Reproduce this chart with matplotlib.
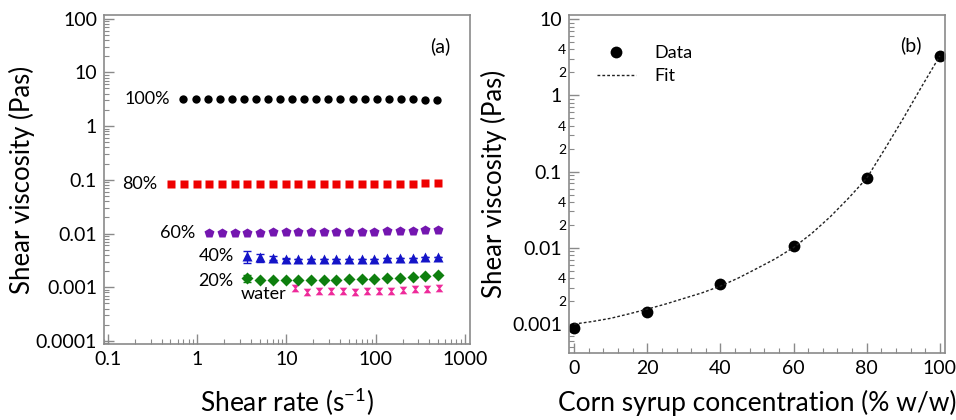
import numpy as np
import matplotlib
matplotlib.use("Agg")
import matplotlib.pyplot as plt
from matplotlib.path import Path
from matplotlib.ticker import LogLocator, FixedLocator, NullFormatter, FixedFormatter, FuncFormatter

plt.rcParams["font.family"] = ["Lato", "DejaVu Sans"]
plt.rcParams["mathtext.fontset"] = "custom"
plt.rcParams["mathtext.rm"] = "Lato"

# =========================
# (a) flow curves
# =========================
rate_100 = [0.70, 0.956, 1.31, 1.78, 2.43, 3.33, 4.54, 6.2, 8.48, 11.6, 15.8,
            21.6, 29.5, 40.3, 55, 75.2, 103, 140, 192, 262, 357, 488]
visc_100 = [3.25, 3.25, 3.25, 3.25, 3.25, 3.25, 3.25, 3.25, 3.25, 3.25, 3.25,
            3.25, 3.25, 3.25, 3.25, 3.25, 3.25, 3.2, 3.2, 3.15, 3.1, 3.0]

rate_80 = [0.51, 0.71, 0.98, 1.36, 1.89, 2.63, 3.65, 5.06, 7.03, 9.75, 13.5,
           18.8, 26.1, 36.2, 50.2, 69.7, 96.8, 134, 186, 259, 359, 499]
visc_80 = [0.085, 0.085, 0.085, 0.085, 0.085, 0.085, 0.085, 0.085, 0.085, 0.085, 0.085,
           0.085, 0.085, 0.085, 0.085, 0.085, 0.085, 0.085, 0.085, 0.085, 0.086, 0.086]

rate_60 = [1.36, 1.89, 2.63, 3.65, 5.06, 7.03, 9.75, 13.5, 18.8, 26.1,
           36.2, 50.2, 69.7, 96.8, 134, 186, 259, 359, 499]
visc_60 = [0.0101, 0.0102, 0.0103, 0.0104, 0.0104, 0.0105, 0.0105, 0.0106, 0.0106, 0.0107,
           0.0107, 0.0108, 0.0108, 0.0109, 0.011, 0.011, 0.0112, 0.0114, 0.0117]

rate_40 = [3.65, 5.06, 7.03, 9.75, 13.5, 18.8, 26.1, 36.2, 50.2, 69.7,
           96.8, 134, 186, 259, 359, 499]
visc_40 = [0.0038, 0.0036, 0.0035, 0.0034, 0.0034, 0.0034, 0.0034, 0.0034, 0.0034, 0.0034,
           0.0034, 0.0035, 0.0035, 0.0035, 0.0036, 0.0037]
err_40 = [0.0010, 0.0006, 0.0003, 0.0001, 0, 0, 0, 0, 0, 0, 0, 0, 0, 0, 0, 0]

rate_20 = [3.65, 5.06, 7.03, 9.75, 13.5, 18.8, 26.1, 36.2, 50.2, 69.7,
           96.8, 134, 186, 259, 359, 499]
visc_20 = [0.00148, 0.00138, 0.00136, 0.00136, 0.00137, 0.00137, 0.00138, 0.00139, 0.0014, 0.00142,
           0.00144, 0.00147, 0.0015, 0.00155, 0.0016, 0.00168]
err_20 = [0.0002, 0, 0, 0, 0, 0, 0, 0, 0, 0, 0, 0, 0, 0, 0, 0]

rate_w = [12.3, 16.8, 22.9, 31.3, 42.7, 58.3, 79.6, 109, 148, 202, 276, 377, 515]
visc_w = [0.00095, 0.00082, 0.00085, 0.00086, 0.00086, 0.00083, 0.00085, 0.00085,
          0.00086, 0.00088, 0.00091, 0.00094, 0.00098]

# =========================
# (b) concentration dependence
# =========================
conc = [0, 20, 40, 60, 80, 100]
visc_conc = [0.000895, 0.00142, 0.00334, 0.0107, 0.082, 3.3]

fit_conc = [0, 5, 10, 15, 20, 25, 30, 35, 40, 45, 50, 55, 60, 65, 70, 75, 80, 85, 90, 95, 100]
fit_visc = [0.00100, 0.00108, 0.00119, 0.00136, 0.00157, 0.00183, 0.00217, 0.00257, 0.00315,
            0.00404, 0.00537, 0.00718, 0.0101, 0.0155, 0.0255, 0.0447, 0.082, 0.20, 0.50,
            1.30, 3.30]

frame_col = "#8a8a8a"

hourglass = Path([(-1, 1), (1, 1), (0.2, 0), (1, -1), (-1, -1), (-0.2, 0), (-1, 1)],
                 [Path.MOVETO] + [Path.LINETO] * 5 + [Path.CLOSEPOLY])

fig = plt.figure(figsize=(9.56, 4.2), dpi=100)
ax1 = fig.add_axes([0.1088, 0.181, 0.3828, 0.783])
ax2 = fig.add_axes([0.5952, 0.1595, 0.3933, 0.8045])

for ax in (ax1, ax2):
    for s in ax.spines.values():
        s.set_color(frame_col)
        s.set_linewidth(1.2)
    ax.tick_params(which="both", direction="in", color=frame_col, right=False, top=False)
    ax.tick_params(which="major", length=7, width=1, labelsize=14, pad=5)
    ax.tick_params(which="minor", length=3.5, width=0.8)

# ---- panel (a)
ax1.plot(rate_100, visc_100, "o", color="black", ms=6, mec="none")
ax1.plot(rate_80, visc_80, "s", color="#ee0000", ms=5.5, mec="none")
ax1.plot(rate_60, visc_60, "p", color="#7416b0", ms=7, mec="none")
ax1.errorbar(rate_40, visc_40, yerr=err_40, fmt="^", color="#1414c8", ms=6.5, mec="none",
             elinewidth=0.9, capsize=3)
ax1.errorbar(rate_20, visc_20, yerr=err_20, fmt="D", color="#0e7f0e", ms=6.5, mec="none",
             elinewidth=0.9, capsize=3)
ax1.plot(rate_w, visc_w, ls="none", marker=hourglass, color="#ee2a9a", ms=5.5, mec="none")

ax1.set_xscale("log")
ax1.set_yscale("log")
ax1.set_xlim(0.09, 1140)
ax1.set_ylim(8.8e-5, 116)
ax1.xaxis.set_major_locator(FixedLocator([0.1, 1, 10, 100, 1000]))
ax1.xaxis.set_major_formatter(FixedFormatter(["0.1", "1", "10", "100", "1000"]))
ax1.xaxis.set_minor_locator(LogLocator(base=10, subs=np.arange(2, 10)))
ax1.xaxis.set_minor_formatter(NullFormatter())
ax1.yaxis.set_major_locator(FixedLocator([1e-4, 1e-3, 1e-2, 0.1, 1, 10, 100]))
ax1.yaxis.set_major_formatter(FixedFormatter(["0.0001", "0.001", "0.01", "0.1", "1", "10", "100"]))
ax1.yaxis.set_minor_locator(LogLocator(base=10, subs=np.arange(2, 10)))
ax1.yaxis.set_minor_formatter(NullFormatter())

# series labels sit just left of each curve's first point
series_labels = [("100%", rate_100, visc_100, 0),
                 ("80%", rate_80, visc_80, 0),
                 ("60%", rate_60, visc_60, 0),
                 ("40%", rate_40, visc_40, 0),
                 ("20%", rate_20, visc_20, -2),
                 ("water", rate_w, visc_w, -4)]
for name, xs, ys, dy in series_labels:
    gap = -6 if name == "water" else -10
    ax1.annotate(name, (xs[0], ys[0]), xytext=(gap, dy), textcoords="offset points",
                 fontsize=13, ha="right", va="center")
ax1.text(0.92, 0.905, "(a)", transform=ax1.transAxes, fontsize=14, ha="center", va="center")

ax1.set_xlabel("Shear rate (s$^{-1}$)", fontsize=19)
ax1.set_ylabel("Shear viscosity (Pas)", fontsize=18.5)
ax1.xaxis.set_label_coords(0.5, -0.125)
ax1.yaxis.set_label_coords(-0.189, 0.5)

# ---- panel (b)
ax2.plot(conc, visc_conc, "o", color="black", ms=8.5, mec="none", label="Data")
ax2.plot(fit_conc, fit_visc, ls=(0, (2, 1.5)), color="#222222", lw=1.0, label="Fit")

ax2.set_yscale("log")
ax2.set_xlim(-1.4, 101.4)
ax2.set_ylim(4.17e-4, 11.3)
ax2.xaxis.set_major_locator(FixedLocator([0, 20, 40, 60, 80, 100]))
ax2.xaxis.set_minor_locator(FixedLocator(np.arange(0, 101, 4)))
ax2.yaxis.set_major_locator(FixedLocator([1e-3, 1e-2, 0.1, 1, 10]))
ax2.yaxis.set_major_formatter(FixedFormatter(["0.001", "0.01", "0.1", "1", "10"]))
ax2.yaxis.set_minor_locator(LogLocator(base=10, subs=np.arange(2, 10)))


def minor_label(v, pos):
    lead = int(round(v / 10 ** np.floor(np.log10(v) + 1e-9)))
    return str(lead) if lead in (2, 4) else ""


ax2.yaxis.set_minor_formatter(FuncFormatter(minor_label))
ax2.tick_params(axis="y", which="minor", labelsize=10, pad=2)

ax2.legend(loc="upper left", bbox_to_anchor=(0.03, 0.96), frameon=False, fontsize=13,
           handlelength=2.2, handletextpad=1.0, labelspacing=0.4)
ax2.text(0.91, 0.91, "(b)", transform=ax2.transAxes, fontsize=14, ha="center", va="center")

ax2.set_xlabel("Corn syrup concentration (% w/w)", fontsize=19)
ax2.set_ylabel("Shear viscosity (Pas)", fontsize=18.5)
ax2.xaxis.set_label_coords(0.5, -0.109)
ax2.yaxis.set_label_coords(-0.165, 0.5)

fig.savefig("out.png", dpi=100)
